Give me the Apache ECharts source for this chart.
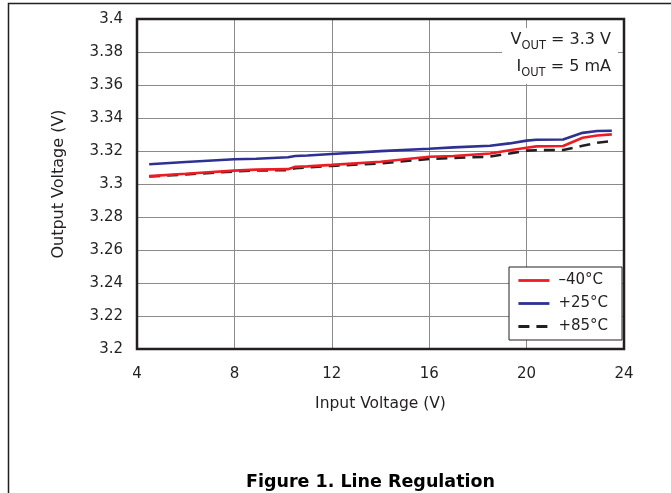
<!DOCTYPE html>
<html><head><meta charset="utf-8">
<script src="https://cdn.jsdelivr.net/npm/echarts@6/dist/echarts.min.js"></script>
<style>html,body{margin:0;padding:0;background:#fff}#c{width:671px;height:493px}</style>
</head><body><div id="c"></div>
<script>
var inputV = [4.5, 6, 8, 8.9, 10.2, 10.5, 11, 12, 14, 16, 17, 18.5, 19.3, 20, 20.4, 21.5, 22.3, 22.9, 23.5];
var vMinus40 = [3.3048, 3.3062, 3.3081, 3.3087, 3.3090, 3.3104, 3.3107, 3.3116, 3.3135, 3.3165, 3.3170, 3.3185, 3.3205, 3.3220, 3.3228, 3.3230, 3.3280, 3.3294, 3.3301];
var vPlus25 = [3.3120, 3.3133, 3.3150, 3.3153, 3.3162, 3.3170, 3.3173, 3.3182, 3.3199, 3.3214, 3.3222, 3.3232, 3.3246, 3.3263, 3.3268, 3.3270, 3.3310, 3.3321, 3.3323];
var vPlus85 = [3.3045, 3.3058, 3.3076, 3.3082, 3.3084, 3.3096, 3.3100, 3.3110, 3.3125, 3.3152, 3.3158, 3.3166, 3.3185, 3.3202, 3.3205, 3.3206, 3.3232, 3.3250, 3.3260];
var seriesNames = ['\u201340\u00b0C', '+25\u00b0C', '+85\u00b0C'];
var xTitle = 'Input Voltage (V)';
var yTitle = 'Output Voltage (V)';
var figTitle = 'Figure 1. Line Regulation';

function pairs(ys){ return inputV.map(function(x,i){ return [x, ys[i]]; }); }
var FONT = 'DejaVu Sans, Liberation Sans, sans-serif';
var INK = '#231f20';
var chart = echarts.init(document.getElementById('c'));
chart.setOption({
  animation: false,
  backgroundColor: '#fff',
  textStyle: {fontFamily: FONT},
  grid: {left: 137, right: 47, top: 19, bottom: 144, show: true, borderColor: INK, borderWidth: 2.5, backgroundColor: 'transparent', z: 10},
  xAxis: {
    type: 'value', min: 4, max: 24, interval: 4,
    name: xTitle, nameLocation: 'middle', nameGap: 47,
    nameTextStyle: {fontSize: 15.5, color: INK, fontFamily: FONT},
    axisLine: {show: false}, axisTick: {show: false},
    axisLabel: {fontSize: 15, color: INK, margin: 18, fontFamily: FONT},
    splitLine: {lineStyle: {color: '#8a8a8a', width: 1}}
  },
  yAxis: {
    type: 'value', min: 3.2, max: 3.4, interval: 0.02,
    name: yTitle, nameLocation: 'middle', nameGap: 70,
    nameTextStyle: {fontSize: 16, color: INK, fontFamily: FONT},
    axisLine: {show: false}, axisTick: {show: false},
    axisLabel: {fontSize: 15, color: INK, margin: 14, fontFamily: FONT,
      formatter: function(v){ return String(parseFloat(v.toFixed(2))); }},
    splitLine: {lineStyle: {color: '#8a8a8a', width: 1}}
  },
  legend: {
    orient: 'vertical', left: 509, top: 267,
    backgroundColor: '#fff', borderColor: INK, borderWidth: 1,
    padding: [6, 14, 6, 8], itemGap: 8, itemWidth: 31, itemHeight: 14,
    itemStyle: {opacity: 0},
    lineStyle: {width: 2.8},
    textStyle: {fontSize: 15, color: INK, fontFamily: FONT, padding: [0, 0, 0, 4]},
    data: seriesNames, z: 20
  },
  series: [
    {name: seriesNames[0], type: 'line', data: pairs(vMinus40), showSymbol: false, symbol: 'none', lineStyle: {color: '#ed1c24', width: 2.6}, itemStyle: {color: '#ed1c24'}, z: 3},
    {name: seriesNames[1], type: 'line', data: pairs(vPlus25), showSymbol: false, symbol: 'none', lineStyle: {color: '#2e3192', width: 2.6}, itemStyle: {color: '#2e3192'}, z: 3},
    {name: seriesNames[2], type: 'line', data: pairs(vPlus85), showSymbol: false, symbol: 'none', lineStyle: {color: INK, width: 2.6, type: [11, 7]}, itemStyle: {color: INK}, z: 2}
  ],
  graphic: [
    {type: 'polyline', shape: {points: [[8.5, 493], [8.5, 3.5], [671, 3.5]]}, style: {stroke: INK, lineWidth: 1.5, fill: null}},
    {type: 'rect', shape: {x: 502, y: 28, width: 116, height: 56}, style: {fill: '#fff'}, z: 5},
    {type: 'text', right: 60, top: 32, z: 6, style: {
      text: '{n|V}{s|OUT}{n| = 3.3 V}', align: 'right', fill: INK,
      rich: {n: {fontSize: 16, fontFamily: FONT, fill: INK, verticalAlign: 'bottom', lineHeight: 18, padding: [0, 0, 4, 0]}, s: {fontSize: 11.5, fontFamily: FONT, fill: INK, verticalAlign: 'bottom', lineHeight: 13}}
    }},
    {type: 'text', right: 60, top: 59, z: 6, style: {
      text: '{n|I}{s|OUT}{n| = 5 mA}', align: 'right', fill: INK,
      rich: {n: {fontSize: 16, fontFamily: FONT, fill: INK, verticalAlign: 'bottom', lineHeight: 18, padding: [0, 0, 4, 0]}, s: {fontSize: 11.5, fontFamily: FONT, fill: INK, verticalAlign: 'bottom', lineHeight: 13}}
    }},
    {type: 'text', left: 246, top: 473, style: {text: figTitle, font: 'bold 17.5px ' + FONT, fill: '#000'}}
  ]
});
</script></body></html>
